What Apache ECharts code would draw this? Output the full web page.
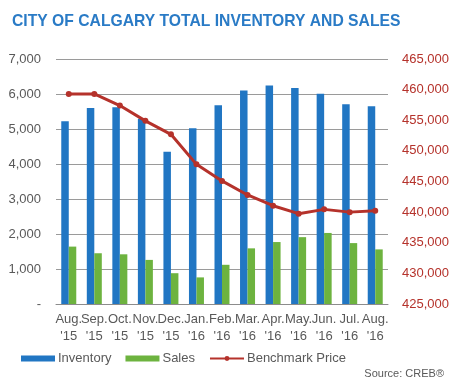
<!DOCTYPE html>
<html><head><meta charset="utf-8">
<script src="https://cdn.jsdelivr.net/npm/echarts@6/dist/echarts.min.js"></script>
<style>html,body{margin:0;padding:0;background:#fff}#c{width:455px;height:382px}</style>
</head><body><div id="c"></div>
<script>
const categories = ["Aug.\n'15","Sep.\n'15","Oct.\n'15","Nov.\n'15","Dec.\n'15","Jan.\n'16","Feb.\n'16","Mar.\n'16","Apr.\n'16","May.\n'16","Jun.\n'16","Jul.\n'16","Aug.\n'16"];
const inventory = [5220,5600,5620,5290,4350,5020,5680,6100,6240,6170,6010,5710,5650];
const sales = [1640,1450,1420,1260,880,760,1120,1590,1770,1910,2030,1740,1560];
const benchmarkPrice = [459300,459300,457400,454900,452700,447800,445100,442800,441050,439750,440450,440000,440240];

const chart = echarts.init(document.getElementById('c'), null, {renderer:'canvas'});
const BLUE='#2176C3', GREEN='#6DB33F', RED='#B5322B', GRAY='#595959';
chart.setOption({
  animation:false,
  title:[{text:'CITY OF CALGARY TOTAL INVENTORY AND SALES',left:12,top:14,padding:0,
    textStyle:{fontFamily:'Liberation Sans',fontWeight:'bold',fontSize:15.7,color:'#2A7BC6'}},
    {text:'Source: CREB®',right:6,top:363,textStyle:{fontFamily:'Liberation Sans',fontWeight:'normal',fontSize:11,color:GRAY}}],
  grid:{left:56,right:67,top:59,bottom:78},
  legend:{left:16,top:347,itemGap:14,itemWidth:34,itemHeight:6,
    textStyle:{fontFamily:'Liberation Sans',fontSize:13,color:GRAY,padding:[0,0,0,-2]},
    data:[{name:'Inventory',icon:'rect'},{name:'Sales',icon:'rect'},{name:'Benchmark Price'}]},
  xAxis:{type:'category',data:categories,
    axisLine:{show:true,lineStyle:{color:'#8c8c8c',width:1}},axisTick:{show:false},
    axisLabel:{fontFamily:'Liberation Sans',fontSize:13,color:GRAY,lineHeight:17,margin:7,interval:0}},
  yAxis:[{type:'value',min:0,max:7000,interval:1000,
    axisLine:{show:false},axisTick:{show:false},
    splitLine:{lineStyle:{color:'#9a9a9a',width:1}},
    axisLabel:{fontFamily:'Liberation Sans',fontSize:13,color:GRAY,margin:15,
      formatter:v=>v===0?'-':v.toLocaleString('en-US')}},
    {type:'value',min:425000,max:465000,interval:5000,position:'right',
    axisLine:{show:false},axisTick:{show:false},splitLine:{show:false},
    axisLabel:{fontFamily:'Liberation Sans',fontSize:13,color:RED,margin:14,
      formatter:v=>v.toLocaleString('en-US')}}],
  series:[
    {name:'Inventory',type:'bar',data:inventory,itemStyle:{color:BLUE},barWidth:7.5,barGap:'0%'},
    {name:'Sales',type:'bar',data:sales,itemStyle:{color:GREEN},barWidth:7.5},
    {name:'Benchmark Price',type:'line',yAxisIndex:1,data:benchmarkPrice,
      lineStyle:{color:RED,width:3},itemStyle:{color:RED},symbol:'circle',symbolSize:6,showSymbol:true}
  ]
});
</script></body></html>
